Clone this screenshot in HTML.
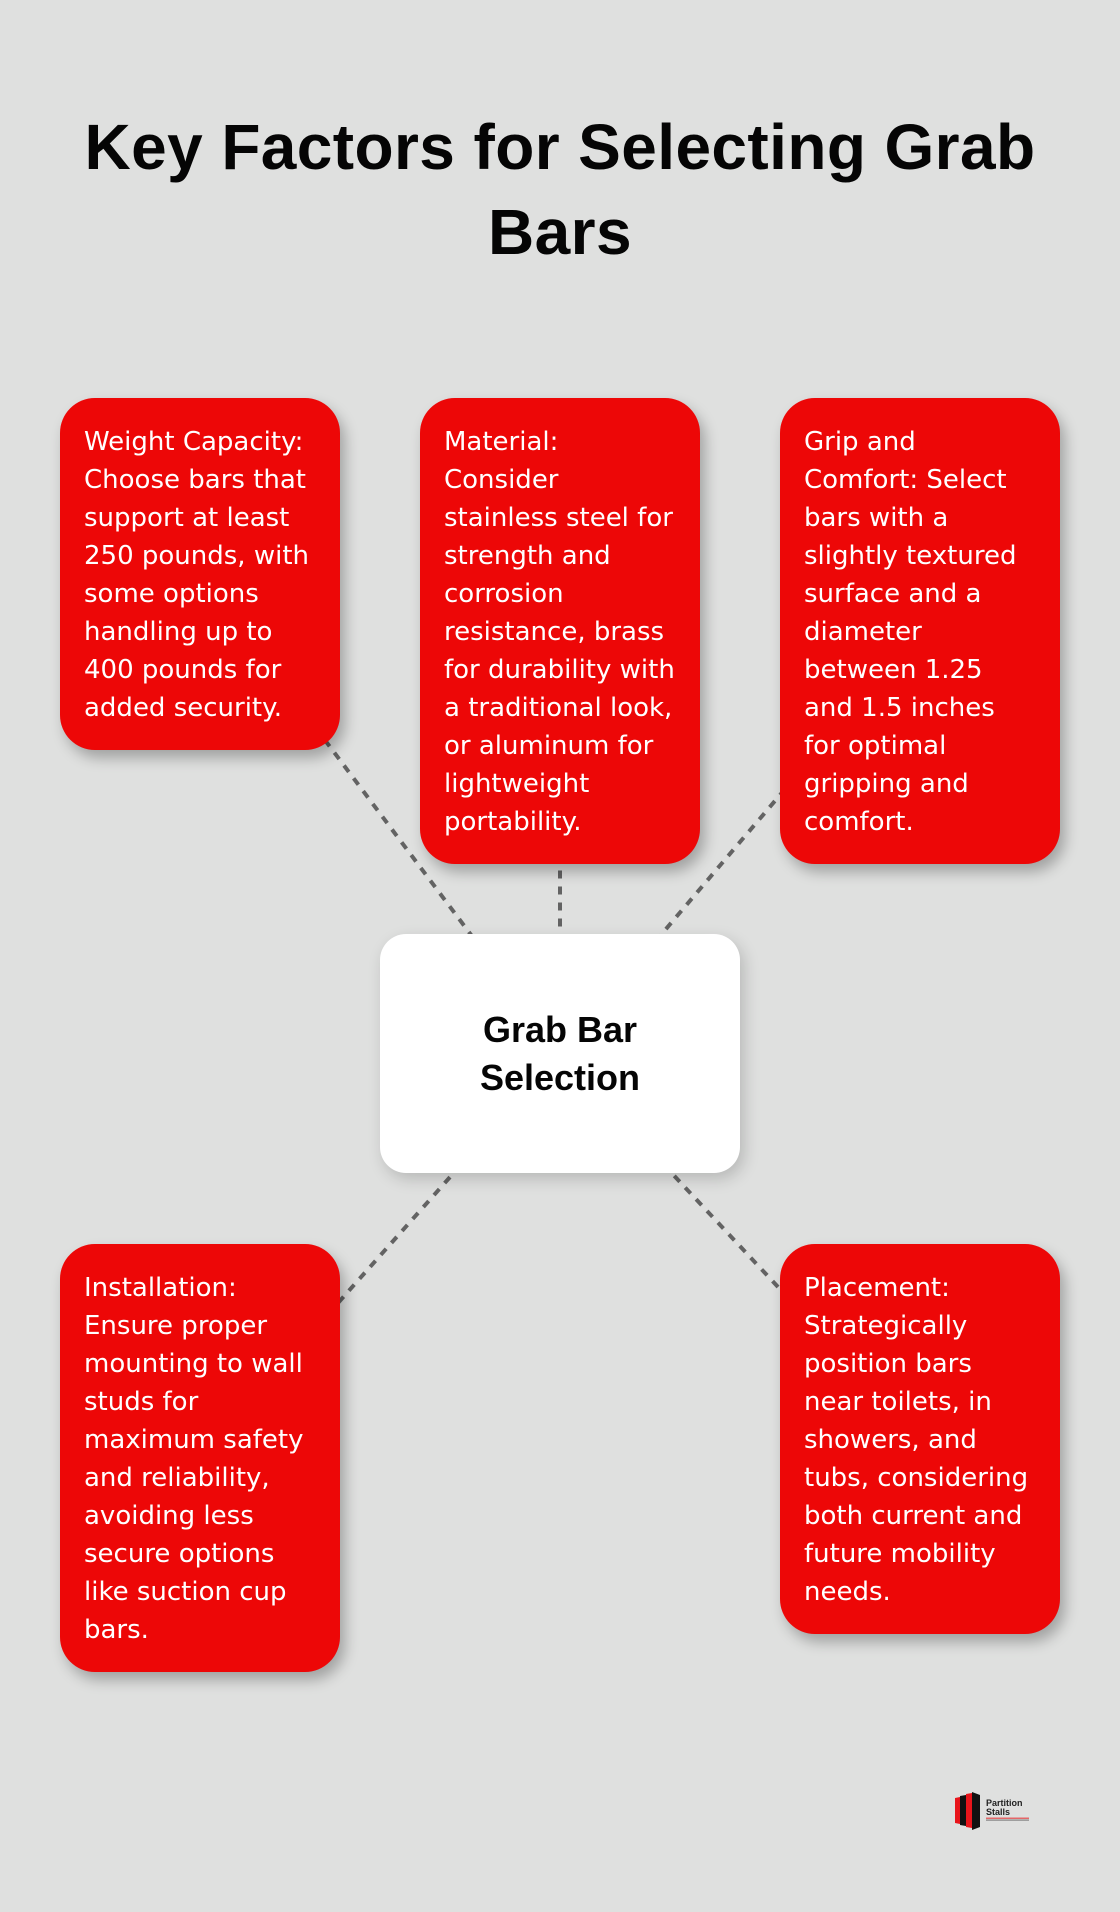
<!DOCTYPE html>
<html>
<head>
<meta charset="utf-8">
<style>
  html, body { margin:0; padding:0; }
  body { width:1120px; height:1912px; background:#dfe0df; position:relative; overflow:hidden; }
  .title { position:absolute; left:0; top:105px; width:1120px; text-align:center;
    font-family:"Liberation Sans", sans-serif; font-weight:bold; font-size:64px; line-height:85px;
    color:#050505; letter-spacing:0.4px; white-space:nowrap; }
  svg.lines { position:absolute; left:0; top:0; }
  .box { position:absolute; width:280px; background:#ed0707; border-radius:35px;
    box-shadow:5px 8px 14px rgba(0,0,0,0.28); box-sizing:border-box; padding:25px 0 0 24px;
    font-family:"DejaVu Sans", sans-serif; font-size:26px; line-height:38px; color:#fff; white-space:nowrap; }
  .center { position:absolute; left:380px; top:934px; width:360px; height:239px; background:#fff;
    border-radius:26px; box-shadow:4px 6px 16px rgba(0,0,0,0.18); display:flex; align-items:center; justify-content:center;
    text-align:center; font-family:"Liberation Sans", sans-serif; font-weight:bold; font-size:36px; line-height:48px; color:#050505; }
</style>
</head>
<body>
<div class="title">Key Factors for Selecting Grab<br>Bars</div>

<svg class="lines" width="1120" height="1912" viewBox="0 0 1120 1912">
  <g stroke="#636363" stroke-width="4" stroke-dasharray="8 8" fill="none">
    <line x1="200" y1="573.5" x2="560" y2="1053.5"/>
    <line x1="560" y1="630.5" x2="560" y2="1053.5"/>
    <line x1="920" y1="630.5" x2="560" y2="1053.5"/>
    <line x1="200" y1="1458" x2="560" y2="1053.5"/>
    <line x1="920" y1="1439" x2="560" y2="1053.5"/>
  </g>
</svg>

<div class="box" style="left:60px; top:398px; height:352px;">Weight Capacity:<br>Choose bars that<br>support at least<br>250 pounds, with<br>some options<br>handling up to<br>400 pounds for<br>added security.</div>

<div class="box" style="left:420px; top:398px; height:466px;">Material:<br>Consider<br>stainless steel for<br>strength and<br>corrosion<br>resistance, brass<br>for durability with<br>a traditional look,<br>or aluminum for<br>lightweight<br>portability.</div>

<div class="box" style="left:780px; top:398px; height:466px;">Grip and<br>Comfort: Select<br>bars with a<br>slightly textured<br>surface and a<br>diameter<br>between 1.25<br>and 1.5 inches<br>for optimal<br>gripping and<br>comfort.</div>

<div class="center"><div>Grab Bar<br>Selection</div></div>

<div class="box" style="left:60px; top:1244px; height:428px;">Installation:<br>Ensure proper<br>mounting to wall<br>studs for<br>maximum safety<br>and reliability,<br>avoiding less<br>secure options<br>like suction cup<br>bars.</div>

<div class="box" style="left:780px; top:1244px; height:390px;">Placement:<br>Strategically<br>position bars<br>near toilets, in<br>showers, and<br>tubs, considering<br>both current and<br>future mobility<br>needs.</div>

<svg style="position:absolute; left:950px; top:1788px;" width="90" height="46" viewBox="0 0 90 46">
  <polygon points="5,10 10,9 10,36 5,35" fill="#e8151b"/>
  <polygon points="10,8 16,7 16,38 10,37" fill="#111"/>
  <polygon points="16,6 22,5 22,40 16,39" fill="#e8151b"/>
  <polygon points="22,4 30,7 30,39 22,42" fill="#111"/>
  <text x="36" y="18" font-family="Liberation Sans, sans-serif" font-size="9" font-weight="bold" fill="#222">Partition</text>
  <text x="36" y="27" font-family="Liberation Sans, sans-serif" font-size="9" font-weight="bold" fill="#222">Stalls</text>
  <rect x="36" y="29.5" width="43" height="1.5" fill="#e8151b" opacity="0.6"/>
  <rect x="36" y="31.5" width="43" height="1.2" fill="#444" opacity="0.6"/>
</svg>
</body>
</html>
